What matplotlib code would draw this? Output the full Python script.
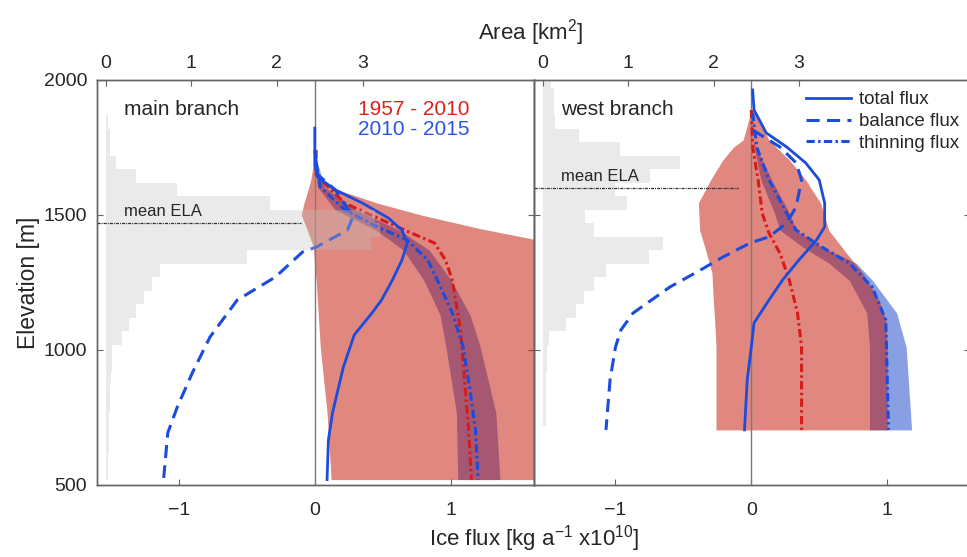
import matplotlib
matplotlib.use("Agg")
import matplotlib.pyplot as plt
from matplotlib.lines import Line2D

plt.rcParams['font.family'] = ['Liberation Sans', 'DejaVu Sans']
plt.rcParams['mathtext.fontset'] = 'custom'
plt.rcParams['mathtext.rm'] = 'Liberation Sans'
plt.rcParams['mathtext.it'] = 'Liberation Sans:italic'

######################################################################
# main branch (ice flux in 1e10 kg/a, elevation in m)

main_total_z = [1822, 1685, 1641, 1593, 1544, 1489, 1444, 1396, 1333, 1259, 1185, 1137, 1056, 937, 767, 667, 520]
main_total_q = [0.0, 0.0, 0.02, 0.15, 0.35, 0.54, 0.64, 0.68, 0.64, 0.57, 0.49, 0.42, 0.29, 0.21, 0.13, 0.10, 0.09]

main_bal_z = [1740, 1650, 1593, 1493, 1444, 1381, 1363, 1270, 1185, 1048, 915, 789, 693, 526]
main_bal_q = [0.0, 0.02, 0.15, 0.28, 0.24, 0.01, -0.09, -0.29, -0.57, -0.77, -0.90, -1.01, -1.08, -1.11]

main_thin_z = [1693, 1604, 1519, 1456, 1407, 1333, 1259, 1137, 1011, 852, 704, 520]
main_thin_q = [0.01, 0.04, 0.22, 0.46, 0.68, 0.83, 0.90, 1.01, 1.09, 1.14, 1.18, 1.20]

main_old_z = [1741, 1648, 1544, 1489, 1433, 1396, 1333, 1259, 1074, 889, 704, 520]
main_old_q = [0.01, 0.01, 0.22, 0.46, 0.71, 0.88, 0.96, 1.01, 1.07, 1.10, 1.13, 1.15]

# uncertainty 1957-2010 (red) and 2010-2015 (blue)
main_old_unc_z = [1722, 1630, 1593, 1544, 1500, 1450, 1381, 1300, 1259, 1011, 767, 520]
main_old_unc_lo = [0.0, -0.03, -0.05, -0.08, -0.10, -0.06, -0.01, 0.0, 0.01, 0.04, 0.09, 0.12]
main_old_unc_hi = [0.0, 0.04, 0.17, 0.46, 0.78, 1.21, 1.90, 2.60, 2.60, 2.60, 2.60, 2.60]

main_new_unc_z = [1693, 1604, 1519, 1444, 1370, 1259, 1130, 1020, 767, 520]
main_new_unc_lo = [0.0, 0.02, 0.15, 0.45, 0.65, 0.80, 0.92, 0.96, 1.04, 1.05]
main_new_unc_hi = [0.02, 0.07, 0.30, 0.62, 0.84, 1.00, 1.14, 1.21, 1.33, 1.36]

# hypsometry, 50 m bins (lower edge) and area in km2
main_bins = [520, 570, 620, 670, 720, 770, 820, 870, 920, 970, 1020, 1070, 1120, 1170,
             1220, 1270, 1320, 1370, 1420, 1470, 1520, 1570, 1620, 1670, 1720, 1770, 1820]
main_area = [0.03, 0.03, 0.04, 0.04, 0.04, 0.05, 0.05, 0.06, 0.07, 0.08, 0.19, 0.27, 0.35, 0.45,
             0.54, 0.64, 1.65, 3.10, 3.20, 3.15, 1.92, 0.83, 0.35, 0.12, 0.05, 0.05, 0.03]
main_ela = 1470

######################################################################
# west branch

west_total_z = [1963, 1889, 1804, 1752, 1693, 1630, 1544, 1456, 1407, 1333, 1259, 1185, 1100, 1011, 889, 704]
west_total_q = [0.01, 0.02, 0.11, 0.26, 0.40, 0.50, 0.54, 0.54, 0.48, 0.35, 0.23, 0.13, 0.02, 0.0, -0.03, -0.05]

west_bal_z = [1815, 1752, 1693, 1630, 1530, 1470, 1419, 1396, 1344, 1296, 1233, 1137, 1074, 1011, 889, 704]
west_bal_q = [0.01, 0.21, 0.33, 0.37, 0.33, 0.26, 0.13, -0.01, -0.21, -0.375, -0.60, -0.87, -0.96, -1.0, -1.04, -1.07]

west_thin_z = [1878, 1752, 1630, 1507, 1444, 1381, 1322, 1233, 1111, 704]
west_thin_q = [0.01, 0.04, 0.13, 0.26, 0.33, 0.52, 0.72, 0.89, 0.99, 1.01]

west_old_z = [1889, 1752, 1630, 1507, 1433, 1359, 1259, 1137, 1011, 704]
west_old_q = [0.0, 0.01, 0.05, 0.08, 0.13, 0.21, 0.28, 0.34, 0.37, 0.37]

west_old_unc_z = [1889, 1778, 1752, 1704, 1630, 1544, 1444, 1359, 1285, 1185, 1111, 1011, 704]
west_old_unc_lo = [0.0, -0.06, -0.13, -0.21, -0.30, -0.39, -0.38, -0.33, -0.29, -0.28, -0.27, -0.26, -0.26]
west_old_unc_hi = [0.01, 0.13, 0.18, 0.28, 0.40, 0.51, 0.57, 0.70, 0.82, 0.94, 0.99, 1.00, 1.00]

west_new_unc_z = [1778, 1630, 1507, 1444, 1381, 1322, 1259, 1137, 1011, 704]
west_new_unc_lo = [0.01, 0.07, 0.17, 0.21, 0.38, 0.57, 0.72, 0.85, 0.87, 0.87]
west_new_unc_hi = [0.01, 0.15, 0.28, 0.33, 0.52, 0.77, 0.89, 1.07, 1.14, 1.18]

west_bins = [720, 770, 820, 870, 920, 970, 1020, 1070, 1120, 1170, 1220, 1270, 1320,
             1370, 1420, 1470, 1520, 1570, 1620, 1670, 1720, 1770, 1820, 1870, 1920, 1970]
west_area = [0.04, 0.04, 0.04, 0.04, 0.05, 0.05, 0.08, 0.27, 0.39, 0.48, 0.60, 0.74, 1.24,
             1.41, 0.60, 0.50, 0.99, 0.85, 1.26, 1.61, 0.91, 0.43, 0.15, 0.13, 0.13, 0.10]
west_ela = 1600

######################################################################

BLUE = '#1b4cdc'
RED = '#d81a1a'
SPINE = '#646464'
TXT = '#262626'


def panel(ax, total, bal, thin, old, old_unc, new_unc, bins, area, ela, name):
    ax.fill_betweenx(new_unc[0], new_unc[1], new_unc[2], color='#1541c9', alpha=0.5, lw=0, zorder=1)
    ax.fill_betweenx(old_unc[0], old_unc[1], old_unc[2], color='#c31100', alpha=0.5, lw=0, zorder=2)
    ax.axvline(0, color='#7a7a7a', lw=1.0, zorder=3)
    ax.plot(old[1], old[0], color=RED, lw=2.2, dashes=(2.7, 1.1, 0.8, 1.1), zorder=4)
    ax.plot(thin[1], thin[0], color=BLUE, lw=2.2, dashes=(2.7, 1.1, 0.8, 1.1), zorder=5)
    ax.plot(bal[1], bal[0], color=BLUE, lw=2.2, dashes=(4.3, 2.4), zorder=5)
    ax.plot(total[1], total[0], color=BLUE, lw=2.0, zorder=6)

    ax.set_xlim(-1.6, 1.61)
    ax.set_xticks([-1, 0, 1])
    ax.tick_params(axis='x', direction='in', length=4, color=SPINE, labelsize=14,
                   labelcolor=TXT, pad=12, top=False)
    ax.tick_params(axis='y', direction='in', length=4, color=SPINE, labelsize=14,
                   labelcolor=TXT, pad=7, right=True)

    # area histogram on a top axis, drawn over the flux bands
    top = ax.twiny()
    top.barh(bins, area, height=50, align='edge', color='#c2c2c2', alpha=0.33, lw=0)
    top.set_xlim(-0.1, 5.0)
    top.set_xticks([0, 1, 2, 3])
    top.tick_params(axis='x', direction='in', length=4, color=SPINE, labelsize=14,
                    labelcolor=TXT, pad=6)

    # ELA line and labels in flux coordinates, kept above the histogram
    top.plot([-1.6, -0.1], [ela, ela], color='#303030', lw=0.9,
             dashes=(2.5, 0.8, 0.8, 0.8), transform=ax.transData)
    top.text(-1.4, ela + 16, 'mean ELA', fontsize=12, color=TXT, va='bottom',
             transform=ax.transData)
    top.text(-1.4, 1889, name, fontsize=15, color=TXT, va='center', transform=ax.transData)

    ax.set_ylim(500, 2000)
    ax.set_yticks([500, 1000, 1500, 2000])
    for a in (ax, top):
        for s in a.spines.values():
            s.set_color(SPINE)
            s.set_linewidth(1.0)
    return top


fig = plt.figure(figsize=(9.67, 5.57), dpi=100)
axL = fig.add_axes([0.1003, 0.1293, 0.4519, 0.7271])
axR = fig.add_axes([0.5522, 0.1293, 0.4509, 0.7271])

panel(axL,
      (main_total_z, main_total_q), (main_bal_z, main_bal_q),
      (main_thin_z, main_thin_q), (main_old_z, main_old_q),
      (main_old_unc_z, main_old_unc_lo, main_old_unc_hi),
      (main_new_unc_z, main_new_unc_lo, main_new_unc_hi),
      main_bins, main_area, main_ela, 'main branch')
panel(axR,
      (west_total_z, west_total_q), (west_bal_z, west_bal_q),
      (west_thin_z, west_thin_q), (west_old_z, west_old_q),
      (west_old_unc_z, west_old_unc_lo, west_old_unc_hi),
      (west_new_unc_z, west_new_unc_lo, west_new_unc_hi),
      west_bins, west_area, west_ela, 'west branch')

axR.tick_params(axis='y', labelleft=False)
axL.set_ylabel('Elevation [m]', fontsize=16.5, color=TXT, labelpad=3)

axL.text(0.32, 1889, '1957 - 2010', fontsize=15, color='#e0201a', va='center')
axL.text(0.32, 1815, '2010 - 2015', fontsize=15, color='#2a55e0', va='center')

handles = [Line2D([], [], color=BLUE, lw=2.0),
           Line2D([], [], color=BLUE, lw=2.2, dashes=(4.3, 2.4)),
           Line2D([], [], color=BLUE, lw=2.2, dashes=(2.7, 1.1, 0.8, 1.1))]
axR.legend(handles, ['total flux', 'balance flux', 'thinning flux'], loc='upper right',
           bbox_to_anchor=(1.0, 1.0), frameon=False, fontsize=13.5, handlelength=2.4,
           handletextpad=0.4, labelspacing=0.25, borderaxespad=0.2, labelcolor=TXT)

fig.text(0.549, 0.941, 'Area [km$^2$]', ha='center', va='center', fontsize=16, color=TXT)
fig.text(0.552, 0.006, 'Ice flux [kg a$^{-1}$ x10$^{10}$]', ha='center', va='bottom',
         fontsize=16, color=TXT)

fig.savefig('out.png', dpi=100)
